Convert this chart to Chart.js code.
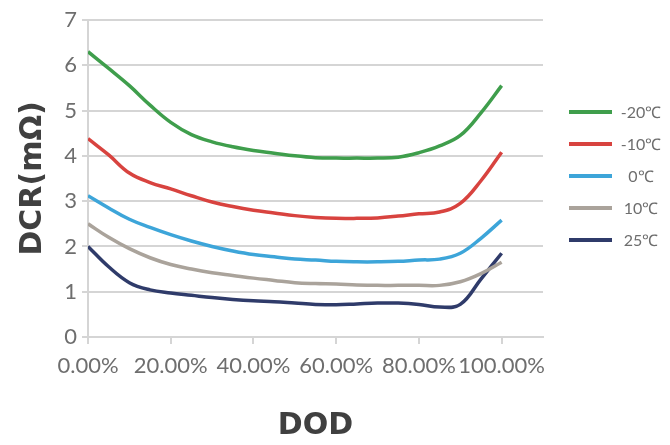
<!DOCTYPE html>
<html>
<head>
<meta charset="utf-8">
<script src="https://cdn.jsdelivr.net/npm/chart.js@4/dist/chart.umd.min.js"></script>
<style>
  html, body { margin: 0; padding: 0; background: #fff; }
</style>
</head>
<body>
<canvas id="myChart" width="670" height="445"></canvas>
<script>
// depth of discharge (%) sample points
const dod = [0, 5, 10, 15, 20, 25, 30, 35, 40, 45, 50, 55, 60, 65, 70, 75, 80, 85, 90, 95, 100];
const seriesNames = ['-20℃', '-10℃', '0℃', '10℃', '25℃'];
const seriesColors = ['#3f9e4c', '#d8433f', '#3da5d9', '#aaa39b', '#2f3b6a'];

// DCR (mΩ) per temperature
const dcrMinus20 = [6.3, 5.93, 5.55, 5.12, 4.74, 4.47, 4.31, 4.2, 4.12, 4.06, 4.0, 3.96, 3.95, 3.95, 3.95, 3.97, 4.07, 4.22, 4.45, 4.95, 5.55];
const dcrMinus10 = [4.38, 4.02, 3.62, 3.41, 3.27, 3.12, 2.98, 2.88, 2.8, 2.74, 2.68, 2.64, 2.62, 2.62, 2.63, 2.67, 2.72, 2.76, 2.95, 3.45, 4.08];
const dcr0 = [3.12, 2.85, 2.6, 2.42, 2.26, 2.12, 2.0, 1.9, 1.82, 1.77, 1.72, 1.7, 1.67, 1.66, 1.66, 1.67, 1.7, 1.72, 1.85, 2.18, 2.58];
const dcr10 = [2.5, 2.2, 1.95, 1.75, 1.6, 1.5, 1.42, 1.36, 1.3, 1.25, 1.2, 1.18, 1.17, 1.15, 1.14, 1.14, 1.14, 1.14, 1.22, 1.4, 1.65];
const dcr25 = [2.0, 1.55, 1.2, 1.04, 0.97, 0.92, 0.87, 0.83, 0.8, 0.78, 0.75, 0.72, 0.71, 0.73, 0.75, 0.75, 0.72, 0.66, 0.72, 1.28, 1.85];

const xTicks = [0, 20, 40, 60, 80, 100];
const yTicks = [0, 1, 2, 3, 4, 5, 6, 7];

const allSeries = [dcrMinus20, dcrMinus10, dcr0, dcr10, dcr25];

const tickFont = { family: 'Lato', size: 22 };
const tickColor = '#6e6e6e';
const gridColor = '#d5d5d5';
const titleFont = { family: 'DejaVu Sans', size: 30, weight: 'bold' };
const titleColor = '#404040';

// legend drawn on the right side, outside the plot
const sideLegend = {
  id: 'sideLegend',
  afterDraw(chart) {
    const ctx = chart.ctx;
    ctx.save();
    chart.data.datasets.forEach((ds, i) => {
      const y = 112 + i * 32;
      ctx.strokeStyle = ds.borderColor;
      ctx.lineWidth = 4;
      ctx.beginPath();
      ctx.moveTo(569, y);
      ctx.lineTo(612, y);
      ctx.stroke();
      ctx.fillStyle = tickColor;
      ctx.font = '16px Lato';
      ctx.textBaseline = 'middle';
      ctx.textAlign = 'center';
      ctx.fillText(ds.label, 641, y + 1);
    });
    ctx.restore();
  }
};

const ctx = document.getElementById('myChart').getContext('2d');
const myChart = new Chart(ctx, {
  type: 'line',
  data: {
    datasets: allSeries.map((vals, i) => ({
      label: seriesNames[i],
      data: vals.map((v, j) => ({ x: dod[j], y: v })),
      borderColor: seriesColors[i],
      backgroundColor: seriesColors[i],
      borderWidth: 3.5,
      pointRadius: 0,
      tension: 0.4,
      fill: false
    }))
  },
  options: {
    responsive: false,
    animation: false,
    layout: { padding: { top: 20, right: 127, bottom: 0, left: 0 } },
    plugins: {
      legend: { display: false },
      tooltip: { enabled: false }
    },
    scales: {
      x: {
        type: 'linear',
        min: 0,
        max: 110,
        afterBuildTicks: (s) => { s.ticks = xTicks.map(v => ({ value: v })); },
        afterFit: (s) => { s.height = 108; },
        ticks: {
          font: tickFont,
          color: tickColor,
          padding: 9,
          maxRotation: 0,
          autoSkip: false,
          callback: (v) => v.toFixed(2) + '%'
        },
        grid: { drawOnChartArea: false, drawTicks: true, tickLength: 7, color: gridColor, lineWidth: 2 },
        border: { color: gridColor, width: 2 },
        title: {
          display: true,
          text: 'DOD',
          font: titleFont,
          color: titleColor,
          padding: { top: 1, bottom: 1 }
        }
      },
      y: {
        min: 0,
        max: 7,
        afterBuildTicks: (s) => { s.ticks = yTicks.map(v => ({ value: v })); },
        afterFit: (s) => { s.width = 88; },
        ticks: { font: tickFont, color: tickColor, padding: 5 },
        grid: { color: gridColor, lineWidth: 2, tickLength: 6 },
        border: { color: gridColor, width: 2 },
        title: {
          display: true,
          text: 'DCR(mΩ)',
          font: titleFont,
          color: titleColor,
          padding: { top: 15, bottom: 0 }
        }
      }
    }
  },
  plugins: [sideLegend]
});
</script>
</body>
</html>
